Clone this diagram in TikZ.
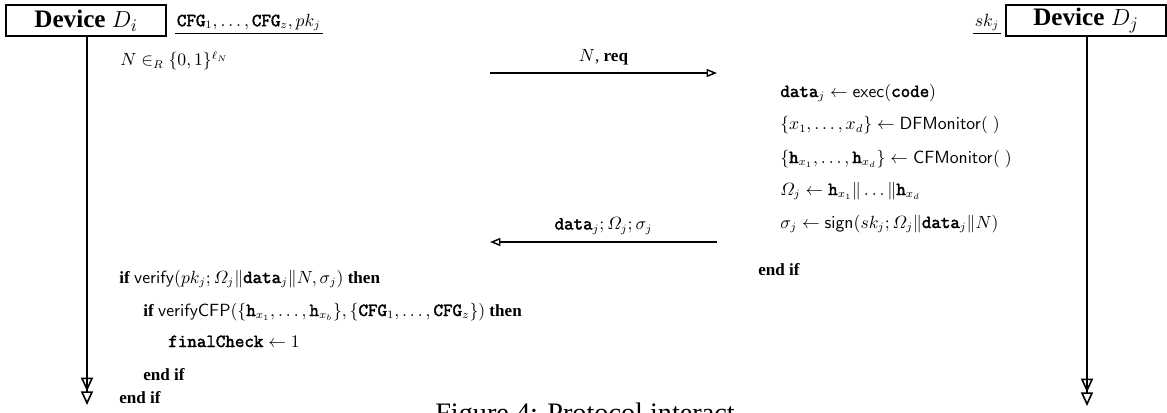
\documentclass[tikz,border=0pt]{standalone}
\usepackage{amsmath}
\usepackage[no-math]{fontspec}
\setmainfont{Liberation Serif}
\newfontfamily\cfgfont{Latin Modern Mono}[FakeBold=2.2, Scale=1.08]
\newcommand{\tb}[1]{\text{\cfgfont #1}}
\usetikzlibrary{arrows.meta, positioning}

\begin{document}
\begin{tikzpicture}[x=0.62pt, y=-0.62pt, every node/.style={font=\fontsize{10.6}{12.7}\selectfont},
  dev/.style={draw, line width=1.2pt, minimum width=99pt, minimum height=19pt, inner sep=0pt, font=\fontsize{15.6}{18}\selectfont\bfseries},
  life/.style={line width=1.3pt, -{Triangle[open,length=8.5pt,width=7.5pt,line width=1pt,sep=0pt]Triangle[open,length=8.5pt,width=7.5pt,line width=1pt]}},
  msg/.style={line width=0.9pt, -{Triangle[open,length=6.5pt,width=5pt,line width=0.9pt]}},
  row/.style={anchor=base west, inner sep=0pt}]
  \useasboundingbox (0,0) rectangle (1167,413);

  % parties
  \node[dev] (di) at (86,20.5) {Device $D_i$};
  \node[dev] (dj) at (1086,20.5) {Device $D_j$};
  \coordinate (diend) at (87,405);
  \coordinate (djend) at (1087,406);
  \draw[life] (di.south -| diend) -- (diend);
  \draw[life] (dj.south -| djend) -- (djend);

  % keys
  \node[anchor=south west, inner sep=1pt] (cfg) at (175,33) {$\tb{CFG}_1, \dots, \tb{CFG}_z, pk_j$};
  \draw[line width=0.5pt] (cfg.south west) -- (cfg.south east);
  \node[anchor=south east, inner sep=1pt] (sk) at (1001,33) {$sk_j$};
  \draw[line width=0.5pt] (sk.south west) -- (sk.south east);

  \node[row] (nonce) at (120,66) {$N \in_R \{0,1\}^{\ell_N}$};

  % messages
  \coordinate (m1a) at (490,73);
  \coordinate (m1b) at (717,73);
  \draw[msg] (m1a) -- node[above=1pt] (m1l) {$N$, \textbf{req}} (m1b);
  \coordinate (m2a) at (717,242);
  \coordinate (m2b) at (490,242);
  \draw[msg] (m2a) -- node[above=1pt] (m2l) {$\tb{data}_j; \varOmega_j; \sigma_j$} (m2b);

  % device j
  \node[row] (r1) at (780,97) {$\tb{data}_j \leftarrow \mathsf{exec}(\tb{code})$};
  \node[row] (r2) at (780,130) {$\{x_1, \dots, x_d\} \leftarrow \mathsf{DFMonitor}(\;)$};
  \node[row] (r3) at (780,163) {$\{\tb{h}_{x_1}, \dots, \tb{h}_{x_d}\} \leftarrow \mathsf{CFMonitor}(\;)$};
  \node[row] (r4) at (780,195) {$\varOmega_j \leftarrow \tb{h}_{x_1} \| \dots \| \tb{h}_{x_d}$};
  \node[row] (r5) at (780,228) {$\sigma_j \leftarrow \mathsf{sign}(sk_j; \varOmega_j \| \tb{data}_j \| N)$};
  \node[row] (r6) at (758,275) {\textbf{end if}};

  % device i
  \node[row] (l1) at (119,283) {\textbf{if} $\mathsf{verify}(pk_j; \varOmega_j \| \tb{data}_j \| N, \sigma_j)$ \textbf{then}};
  \node[row] (l2) at (143,316) {\textbf{if} $\mathsf{verifyCFP}(\{\tb{h}_{x_1}, \dots, \tb{h}_{x_b}\}, \{\tb{CFG}_1, \dots, \tb{CFG}_z\})$ \textbf{then}};
  \node[row] (l3) at (168,347) {$\tb{finalCheck} \leftarrow 1$};
  \node[row] (l4) at (143,380) {\textbf{end if}};
  \node[row] (l5) at (119,403) {\textbf{end if}};

  \node[anchor=base, inner sep=0pt, font=\fontsize{17.5}{20}\selectfont] (cap) at (585,422) {Figure 4: Protocol interact};
\end{tikzpicture}
\end{document}
